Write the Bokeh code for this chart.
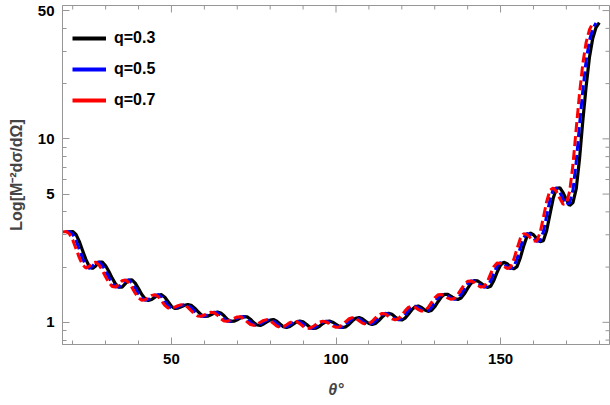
import math
from bokeh.plotting import figure
from bokeh.models import (FixedTicker, Legend, LegendItem, NumeralTickFormatter, Range1d)
from bokeh.embed import file_html
from bokeh.resources import INLINE

# ---------------- data ----------------
theta_q03 = list(range(19, 181))
theta_q05 = list(range(18, 180))
theta_q07 = list(range(17, 179))

sigma_q03 = [
    3.117, 3.125, 3.013, 2.760, 2.465, 2.202, 2.021, 1.964, 2.029, 2.131,   # 19-28
    2.128, 2.034, 1.891, 1.741, 1.621, 1.555, 1.557, 1.627, 1.700, 1.702,   # 29-38
    1.635, 1.528, 1.419, 1.343, 1.315, 1.331, 1.372, 1.409, 1.414, 1.370,   # 39-48
    1.295, 1.224, 1.190, 1.195, 1.215, 1.238, 1.250, 1.239, 1.198, 1.147,   # 49-58
    1.100, 1.077, 1.080, 1.100, 1.124, 1.138, 1.125, 1.085, 1.038, 1.011,   # 59-68
    1.014, 1.033, 1.057, 1.073, 1.072, 1.040, 0.997, 0.967, 0.962, 0.979,   # 69-78
    1.006, 1.029, 1.036, 1.015, 0.979, 0.947, 0.937, 0.949, 0.976, 1.004,   # 79-88
    1.016, 1.006, 0.976, 0.944, 0.926, 0.930, 0.952, 0.984, 1.009, 1.016,   # 89-98
    1.002, 0.976, 0.950, 0.937, 0.945, 0.976, 1.019, 1.053, 1.062, 1.045,   # 99-108
    1.013, 0.985, 0.973, 0.986, 1.022, 1.067, 1.106, 1.121, 1.106, 1.070,   # 109-118
    1.038, 1.029, 1.054, 1.106, 1.168, 1.215, 1.227, 1.204, 1.167, 1.147,   # 119-128
    1.160, 1.215, 1.295, 1.374, 1.421, 1.419, 1.386, 1.348, 1.331, 1.356,   # 129-138
    1.430, 1.532, 1.629, 1.686, 1.681, 1.637, 1.582, 1.550, 1.573, 1.696,   # 139-148
    1.882, 2.053, 2.126, 2.086, 2.004, 1.954, 2.012, 2.246, 2.595, 2.931,   # 149-158
    3.066, 3.001, 2.862, 2.753, 2.785, 3.157, 3.868, 4.740, 5.374, 5.415,   # 159-168
    5.091, 4.657, 4.330, 4.490, 5.350, 7.810, 12.58, 19.28, 27.74, 35.21,   # 169-178
    40.42, 43.03,                                                           # 179-180
]

sigma_q05 = [
    3.115, 3.123, 3.022, 2.782, 2.492, 2.226, 2.039, 1.968, 2.021, 2.120,   # 18-27
    2.128, 2.044, 1.905, 1.756, 1.633, 1.561, 1.557, 1.619, 1.692, 1.702,   # 28-37
    1.641, 1.538, 1.430, 1.350, 1.318, 1.330, 1.368, 1.405, 1.414, 1.374,   # 38-47
    1.301, 1.230, 1.193, 1.194, 1.213, 1.235, 1.249, 1.241, 1.202, 1.151,   # 48-57
    1.104, 1.079, 1.079, 1.097, 1.121, 1.136, 1.127, 1.089, 1.042, 1.014,   # 58-67
    1.014, 1.031, 1.054, 1.072, 1.072, 1.042, 1.001, 0.969, 0.961, 0.978,   # 68-77
    1.004, 1.027, 1.034, 1.018, 0.983, 0.951, 0.938, 0.947, 0.973, 1.001,   # 78-87
    1.015, 1.008, 0.979, 0.947, 0.927, 0.930, 0.950, 0.980, 1.006, 1.015,   # 88-97
    1.004, 0.979, 0.952, 0.938, 0.944, 0.973, 1.015, 1.049, 1.061, 1.046,   # 98-107
    1.015, 0.988, 0.974, 0.985, 1.018, 1.062, 1.100, 1.120, 1.107, 1.074,   # 108-117
    1.041, 1.031, 1.051, 1.099, 1.162, 1.210, 1.226, 1.206, 1.170, 1.148,   # 118-127
    1.158, 1.209, 1.287, 1.365, 1.416, 1.419, 1.389, 1.351, 1.333, 1.352,   # 128-137
    1.423, 1.520, 1.619, 1.679, 1.681, 1.641, 1.587, 1.553, 1.571, 1.683,   # 138-147
    1.863, 2.034, 2.117, 2.088, 2.008, 1.959, 2.006, 2.220, 2.555, 2.893,   # 148-157
    3.049, 3.007, 2.875, 2.761, 2.779, 3.115, 3.802, 4.645, 5.307, 5.400,   # 158-167
    5.123, 4.698, 4.375, 4.480, 5.267, 7.522, 11.99, 18.47, 26.75, 34.38,   # 168-177
    39.85, 42.77,                                                           # 178-179
]

sigma_q07 = [
    3.111, 3.123, 3.034, 2.807, 2.520, 2.251, 2.057, 1.976, 2.016, 2.109,   # 17-26
    2.128, 2.052, 1.920, 1.770, 1.643, 1.569, 1.557, 1.613, 1.685, 1.702,   # 27-36
    1.648, 1.549, 1.441, 1.358, 1.319, 1.328, 1.363, 1.402, 1.412, 1.379,   # 37-46
    1.310, 1.238, 1.197, 1.193, 1.210, 1.233, 1.247, 1.241, 1.206, 1.157,   # 47-56
    1.110, 1.081, 1.079, 1.096, 1.120, 1.135, 1.128, 1.093, 1.047, 1.016,   # 57-66
    1.014, 1.029, 1.051, 1.070, 1.072, 1.046, 1.006, 0.973, 0.963, 0.975,   # 67-76
    1.001, 1.024, 1.034, 1.019, 0.986, 0.953, 0.939, 0.946, 0.970, 0.997,   # 77-86
    1.014, 1.009, 0.983, 0.950, 0.930, 0.929, 0.947, 0.978, 1.004, 1.015,   # 87-96
    1.005, 0.982, 0.955, 0.939, 0.944, 0.970, 1.010, 1.046, 1.061, 1.049,   # 97-106
    1.019, 0.990, 0.975, 0.984, 1.014, 1.058, 1.097, 1.118, 1.109, 1.077,   # 107-116
    1.045, 1.031, 1.049, 1.094, 1.155, 1.206, 1.224, 1.209, 1.174, 1.151,   # 117-126
    1.157, 1.204, 1.279, 1.358, 1.412, 1.419, 1.393, 1.355, 1.335, 1.351,   # 127-136
    1.416, 1.511, 1.609, 1.675, 1.681, 1.645, 1.593, 1.555, 1.569, 1.664,   # 137-146
    1.842, 2.016, 2.109, 2.093, 2.019, 1.964, 1.999, 2.195, 2.520, 2.860,   # 147-156
    3.038, 3.011, 2.889, 2.772, 2.776, 3.076, 3.715, 4.551, 5.240, 5.400,   # 157-166
    5.156, 4.740, 4.402, 4.463, 5.174, 7.244, 11.44, 17.70, 25.79, 33.57,   # 167-176
    39.31, 42.71,                                                           # 177-178
]

legend_labels = ["q=0.3", "q=0.5", "q=0.7"]
x_major = [50, 100, 150]
x_minor = [20, 30, 40, 60, 70, 80, 90, 110, 120, 130, 140, 160, 170, 180]
y_major = [1, 5, 10, 50]
y_minor = [0.8, 0.9, 2, 3, 4, 6, 7, 8, 9, 20, 30, 40]
x_lim = (16.9, 183.1)
y_lim = (0.757, 53.3)

# ---------------- styling ----------------
FONT = "Liberation Sans"
GRAY = "#969696"

p = figure(width=610, height=405, output_backend="svg", toolbar_location=None,
           x_range=Range1d(*x_lim), y_range=Range1d(*y_lim),
           y_axis_type="log", title=None,
           min_border_left=62, min_border_right=1, min_border_top=5,
           min_border_bottom=61)
p.outline_line_color = GRAY
p.outline_line_width = 1
p.xgrid.visible = False
p.ygrid.visible = False
p.background_fill_color = "white"
p.border_fill_color = "white"


def style_axis(ax):
    ax.axis_line_color = GRAY
    ax.axis_line_width = 1
    ax.major_tick_line_color = GRAY
    ax.minor_tick_line_color = GRAY
    ax.major_tick_in = 7
    ax.major_tick_out = 0
    ax.minor_tick_in = 4
    ax.minor_tick_out = 0
    ax.major_label_text_font = FONT
    ax.major_label_text_font_style = "bold"
    ax.major_label_text_font_size = "15px"
    ax.major_label_text_color = "black"


xa = p.xaxis[0]
xa.ticker = FixedTicker(ticks=x_major, minor_ticks=x_minor)
style_axis(xa)
xa.major_label_standoff = 9
xa.axis_label = "θ°"
xa.axis_label_text_font = FONT
xa.axis_label_text_font_style = "bold italic"
xa.axis_label_text_font_size = "16px"
xa.axis_label_standoff = 14

ya = p.yaxis[0]
ya.ticker = FixedTicker(ticks=y_major, minor_ticks=y_minor)
ya.formatter = NumeralTickFormatter(format="0")
style_axis(ya)
ya.major_label_standoff = 8
ya.axis_label = "Log[M⁻²dσ/dΩ]"
ya.axis_label_text_font = FONT
ya.axis_label_text_font_style = "bold"
ya.axis_label_text_font_size = "16px"
ya.axis_label_standoff = 10

# ticks on the top and right sides of the frame (only the inner half is visible)
p.scatter(x_major, [y_lim[1]] * len(x_major), marker="dash", angle=math.pi / 2,
          size=14, line_color=GRAY, line_width=1)
p.scatter(x_minor, [y_lim[1]] * len(x_minor), marker="dash", angle=math.pi / 2,
          size=8, line_color=GRAY, line_width=1)
p.scatter([x_lim[1]] * len(y_major), y_major, marker="dash",
          size=14, line_color=GRAY, line_width=1)
p.scatter([x_lim[1]] * len(y_minor), y_minor, marker="dash",
          size=8, line_color=GRAY, line_width=1)

# ---------------- curves ----------------
p.line(theta_q03, sigma_q03, line_color="black", line_width=3.2)
p.line(theta_q05, sigma_q05, line_color="#0000ff", line_width=3, line_dash="10 4")
p.line(theta_q07, sigma_q07, line_color="#ff0000", line_width=3, line_dash="10 4")

# legend swatches (solid, as in the reference) - one-point lines draw nothing
s1 = p.line(theta_q03[:1], sigma_q03[:1], line_color="black", line_width=4)
s2 = p.line(theta_q05[:1], sigma_q05[:1], line_color="#0000ff", line_width=4)
s3 = p.line(theta_q07[:1], sigma_q07[:1], line_color="#ff0000", line_width=4)

legend = Legend(items=[LegendItem(label=legend_labels[0], renderers=[s1]),
                       LegendItem(label=legend_labels[1], renderers=[s2]),
                       LegendItem(label=legend_labels[2], renderers=[s3])],
                location=(10, 234), margin=0, padding=0, spacing=11,
                glyph_width=34, glyph_height=20, label_height=20,
                label_standoff=8, border_line_color=None,
                background_fill_alpha=0,
                label_text_font=FONT, label_text_font_style="bold",
                label_text_font_size="16px", label_text_color="black")
p.add_layout(legend)

open("out.html", "w").write(file_html(p, INLINE))
